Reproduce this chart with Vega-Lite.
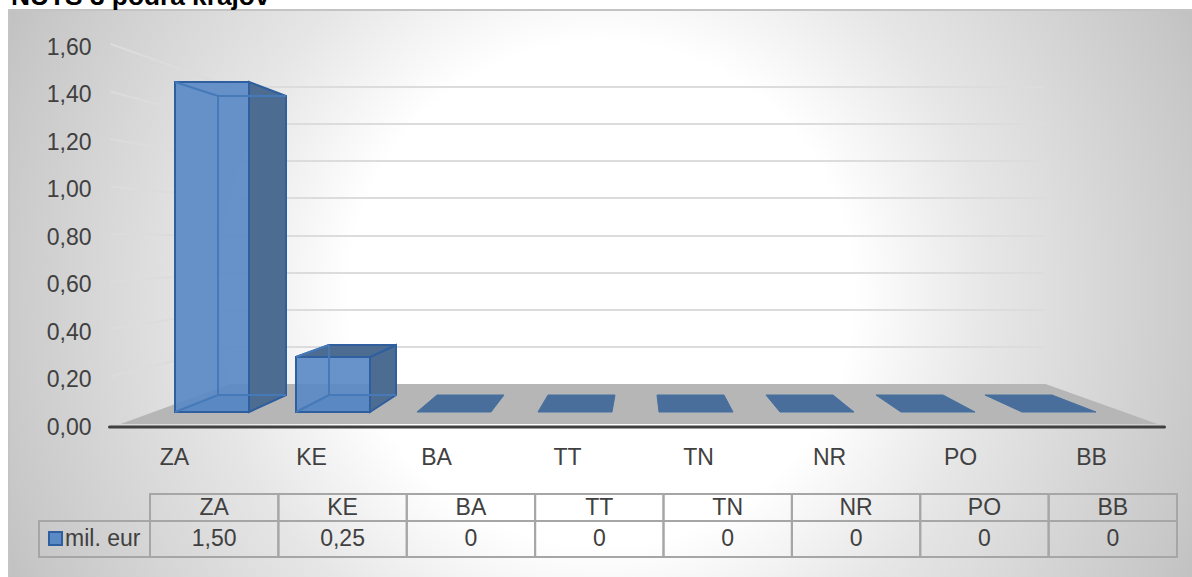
{
"$schema":"https://vega.github.io/schema/vega-lite/v6.json",
"width":1192,"height":577,"autosize":{"type":"none"},"padding":0,"background":"white",
"title":{"text":"NUTS 3 podľa krajov","anchor":"start","frame":"group","orient":"top","offset":0,"dx":11,"dy":31,"baseline":"alphabetic","font":"Liberation Sans","fontWeight":"bold","fontSize":26.3,"color":"#000000"},
"config":{"view":{"stroke":null},"font":"Liberation Sans"},
"datasets":{
"regions":[
{"region":"ZA","value":1.5,"label":"1,50","series":"mil. eur"},
{"region":"KE","value":0.25,"label":"0,25","series":"mil. eur"},
{"region":"BA","value":0,"label":"0","series":"mil. eur"},
{"region":"TT","value":0,"label":"0","series":"mil. eur"},
{"region":"TN","value":0,"label":"0","series":"mil. eur"},
{"region":"NR","value":0,"label":"0","series":"mil. eur"},
{"region":"PO","value":0,"label":"0","series":"mil. eur"},
{"region":"BB","value":0,"label":"0","series":"mil. eur"}],
"ticks":[{"tick":1.6},{"tick":1.4},{"tick":1.2},{"tick":1.0},{"tick":0.8},{"tick":0.6},{"tick":0.4},{"tick":0.2}]
},
"data":{"name":"regions"},
"resolve":{"scale":{"x":"independent","y":"independent","color":"independent","shape":"independent"}},
"layer":[
{"data":{"values":[{"part":"chart area"}]},
 "mark":{"type":"rect","stroke":"#c4c4c4","strokeWidth":2,"fill":{"gradient":"radial","x1":0.5,"y1":0.5,"r1":0,"x2":0.5,"y2":0.5,"r2":0.56,"stops":[{"offset":0,"color":"#ffffff"},{"offset":0.38,"color":"#ffffff"},{"offset":0.59,"color":"#e6e6e6"},{"offset":0.94,"color":"#c7c7c7"},{"offset":1,"color":"#c0c0c0"}]}},
 "encoding":{
  "x":{"datum":0,"type":"quantitative","scale":{"domain":[0,1],"range":[9,1193]},"axis":null},
  "x2":{"datum":1},
  "y":{"datum":0,"type":"quantitative","scale":{"domain":[0,1],"range":[10,578]},"axis":null},
  "y2":{"datum":1}}},
{"data":{"name":"ticks"},
 "mark":{"type":"point","filled":false,"opacity":1,"stroke":"#dcdcdc","strokeWidth":2,"size":4},
 "encoding":{
  "x":{"datum":"ZA","type":"nominal","bandPosition":0,"scale":{"domain":["ZA"],"range":[175,176],"paddingInner":0,"paddingOuter":0},"axis":null},
  "y":{"field":"tick","type":"quantitative","scale":{"domain":[0,1.6],"range":[427,47]},
   "axis":{"orient":"left","offset":-95,"zindex":1,"labelPadding":4,"values":[0,0.2,0.4,0.6,0.8,1,1.2,1.4,1.6],"labelExpr":"replace(format(datum.value,'.2f'),'.',',')","domain":false,"ticks":false,"grid":false,"title":null,"labelFont":"Liberation Sans","labelFontSize":23,"labelColor":"#404040"}},
  "shape":{"field":"tick","type":"nominal","legend":null,"scale":{"domain":[1.6,1.4,1.2,1.0,0.8,0.6,0.4,0.2],"range":[
   "M-65,-3L55,40L870,40","M-65,-3L55,29.5L870,29.5","M-65,-3L55,19L870,19","M-65,-3L55,8.5L870,8.5","M-65,-3L55,-1L870,-1","M-65,-3L55,-11.5L870,-11.5","M-65,-3L55,-22L870,-22","M-65,-3L55,-32.5L870,-32.5"]}}}},
{"data":{"values":[{"part":"floor"}]},
 "mark":{"type":"point","filled":true,"opacity":1,"fill":"#b6b6b6","size":4},
 "encoding":{
  "x":{"datum":"ZA","type":"nominal","bandPosition":0,"scale":{"domain":["ZA"],"range":[175,176],"paddingInner":0,"paddingOuter":0},"axis":null},
  "y":{"datum":0,"type":"quantitative","scale":{"domain":[0,1.5],"range":[412,82]},"axis":null},
  "shape":{"field":"part","type":"nominal","legend":null,"scale":{"domain":["floor"],"range":["M-55,12L982,12L870,-28L55,-28Z"]}}}},
{"data":{"values":[{"part":"base"}]},
 "mark":{"type":"point","filled":false,"opacity":1,"stroke":"#404040","strokeWidth":3,"strokeCap":"round","size":4},
 "encoding":{
  "x":{"datum":"ZA","type":"nominal","bandPosition":0,"scale":{"domain":["ZA"],"range":[175,176],"paddingInner":0,"paddingOuter":0},"axis":null},
  "y":{"datum":0,"type":"quantitative","scale":{"domain":[0,1.5],"range":[412,82]},"axis":null},
  "shape":{"field":"part","type":"nominal","legend":null,"scale":{"domain":["base"],"range":["M-66,15L989,15"]}}}},
{"resolve":{"scale":{"shape":"independent"}},
 "encoding":{
  "x":{"field":"region","type":"nominal","scale":{"domain":["ZA","KE","BA","TT","TN","NR","PO","BB"],"range":[175,1096],"paddingInner":0.3884,"paddingOuter":0},"axis":null},
  "y":{"field":"value","type":"quantitative","scale":{"domain":[0,1.5],"range":[412,82]},"axis":null}},
 "layer":[
 {"mark":{"type":"point","filled":true,"opacity":1,"fill":"#4a6e9b","stroke":"#44709f","strokeWidth":1,"size":4},
  "encoding":{
   "x":{"field":"region","type":"nominal","bandPosition":0},
   "y":{"datum":0,"type":"quantitative"},
   "shape":{"field":"region","type":"nominal","legend":null,"scale":{"domain":["ZA","KE","BA","TT","TN","NR","PO","BB"],"range":["M0,0L74,0L111,-17L43,-17Z","M0,0L74,0L100,-17L33,-17Z","M0,0L74,0L87,-17L20,-17Z","M0,0L74,0L77,-17L10,-17Z","M0,0L74,0L65,-17L-2,-17Z","M0,0L74,0L53,-17L-14,-17Z","M0,0L74,0L42,-17L-25,-17Z","M0,0L74,0L30,-17L-37,-17Z"]}}}},
 {"transform":[{"filter":"datum.value > 0"}],
  "mark":{"type":"point","filled":true,"opacity":1,"fill":"#4d6c91","stroke":"#2f5f9f","strokeWidth":2,"size":4},
  "encoding":{
   "x":{"field":"region","type":"nominal","bandPosition":0},
   "y":{"datum":0,"type":"quantitative"},
   "shape":{"field":"region","type":"nominal","legend":null,"scale":{"domain":["ZA","KE"],"range":["M74,0L111,-17L111,-316L74,-330Z","M74,0L100,-17L100,-67L74,-55Z"]}}}},
 {"transform":[{"filter":"datum.region === 'KE'"}],
  "mark":{"type":"point","filled":true,"opacity":1,"fill":"#4d6c91","stroke":"#2f5f9f","strokeWidth":2,"size":4},
  "encoding":{
   "x":{"field":"region","type":"nominal","bandPosition":0},
   "y":{"datum":0,"type":"quantitative"},
   "shape":{"field":"region","type":"nominal","legend":null,"scale":{"domain":["KE"],"range":["M0,-55L33,-67L100,-67L74,-55Z"]}}}},
 {"transform":[{"filter":"datum.value > 0"}],
  "mark":{"type":"bar","stroke":"#2f5f9f","strokeWidth":2,"fillOpacity":0.92},
  "encoding":{
   "color":{"field":"series","type":"nominal","scale":{"range":["#5a8ac6"]},
    "legend":{"orient":"none","legendX":44,"legendY":527,"title":null,"direction":"vertical","padding":0,"symbolType":"square","symbolSize":170,"symbolStrokeColor":"#2f5f9f","symbolStrokeWidth":2,"symbolOpacity":1,"labelFont":"Liberation Sans","labelFontSize":23,"labelColor":"#404040","labelOffset":-2}}}},
 {"transform":[{"filter":"datum.value > 0"}],
  "mark":{"type":"point","filled":false,"opacity":1,"stroke":"#4679b8","strokeWidth":2,"size":4},
  "encoding":{
   "x":{"field":"region","type":"nominal","bandPosition":0},
   "y":{"datum":0,"type":"quantitative"},
   "shape":{"field":"region","type":"nominal","legend":null,"scale":{"domain":["ZA","KE"],"range":["M0,0L43,-17L111,-17M43,-17L43,-316M0,-330L43,-316L111,-316","M0,0L33,-17L100,-17M33,-17L33,-67M0,-55L33,-67"]}}}}
 ]},
{"mark":{"type":"point","opacity":0},
 "encoding":{
  "x":{"field":"region","type":"nominal","scale":{"type":"point","padding":0,"domain":["ZA","KE","BA","TT","TN","NR","PO","BB"],"range":[174,1091]},
   "axis":{"orient":"bottom","offset":-150,"zindex":1,"labelPadding":19,"labelAngle":0,"labelOffset":{"condition":{"test":"datum.label === 'KE'","value":6},"value":0},"domain":false,"ticks":false,"grid":false,"title":null,"labelFont":"Liberation Sans","labelFontSize":23,"labelColor":"#404040"}}}},
{"data":{"values":[{"part":"legend cell"}]},
 "mark":{"type":"rect","fill":null,"stroke":"#a6a6a6","strokeWidth":2},
 "encoding":{
  "x":{"datum":0,"type":"quantitative","scale":{"domain":[0,1],"range":[39,150]},"axis":null},
  "x2":{"datum":1},
  "y":{"datum":0,"type":"quantitative","scale":{"domain":[0,1],"range":[521,557]},"axis":null},
  "y2":{"datum":1}}},
{"resolve":{"scale":{"y":"independent"}},
 "encoding":{
  "x":{"field":"region","type":"nominal","scale":{"domain":["ZA","KE","BA","TT","TN","NR","PO","BB"],"range":[150,1177],"paddingInner":0,"paddingOuter":0},"axis":null}},
 "layer":[
 {"layer":[
  {"mark":{"type":"rect","fill":null,"stroke":"#a6a6a6","strokeWidth":2},
   "encoding":{"y":{"datum":0,"type":"quantitative","scale":{"domain":[0,1],"range":[494,521]},"axis":null},"y2":{"datum":1}}},
  {"mark":{"type":"text","font":"Liberation Sans","fontSize":23,"color":"#404040","baseline":"middle"},
   "encoding":{"y":{"datum":0.5,"type":"quantitative"},"text":{"field":"region"}}}]},
 {"layer":[
  {"mark":{"type":"rect","fill":null,"stroke":"#a6a6a6","strokeWidth":2},
   "encoding":{"y":{"datum":0,"type":"quantitative","scale":{"domain":[0,1],"range":[521,557]},"axis":null},"y2":{"datum":1}}},
  {"mark":{"type":"text","font":"Liberation Sans","fontSize":23,"color":"#404040","baseline":"middle"},
   "encoding":{"y":{"datum":0.5,"type":"quantitative"},"text":{"field":"label"}}}]}
 ]}
]}
